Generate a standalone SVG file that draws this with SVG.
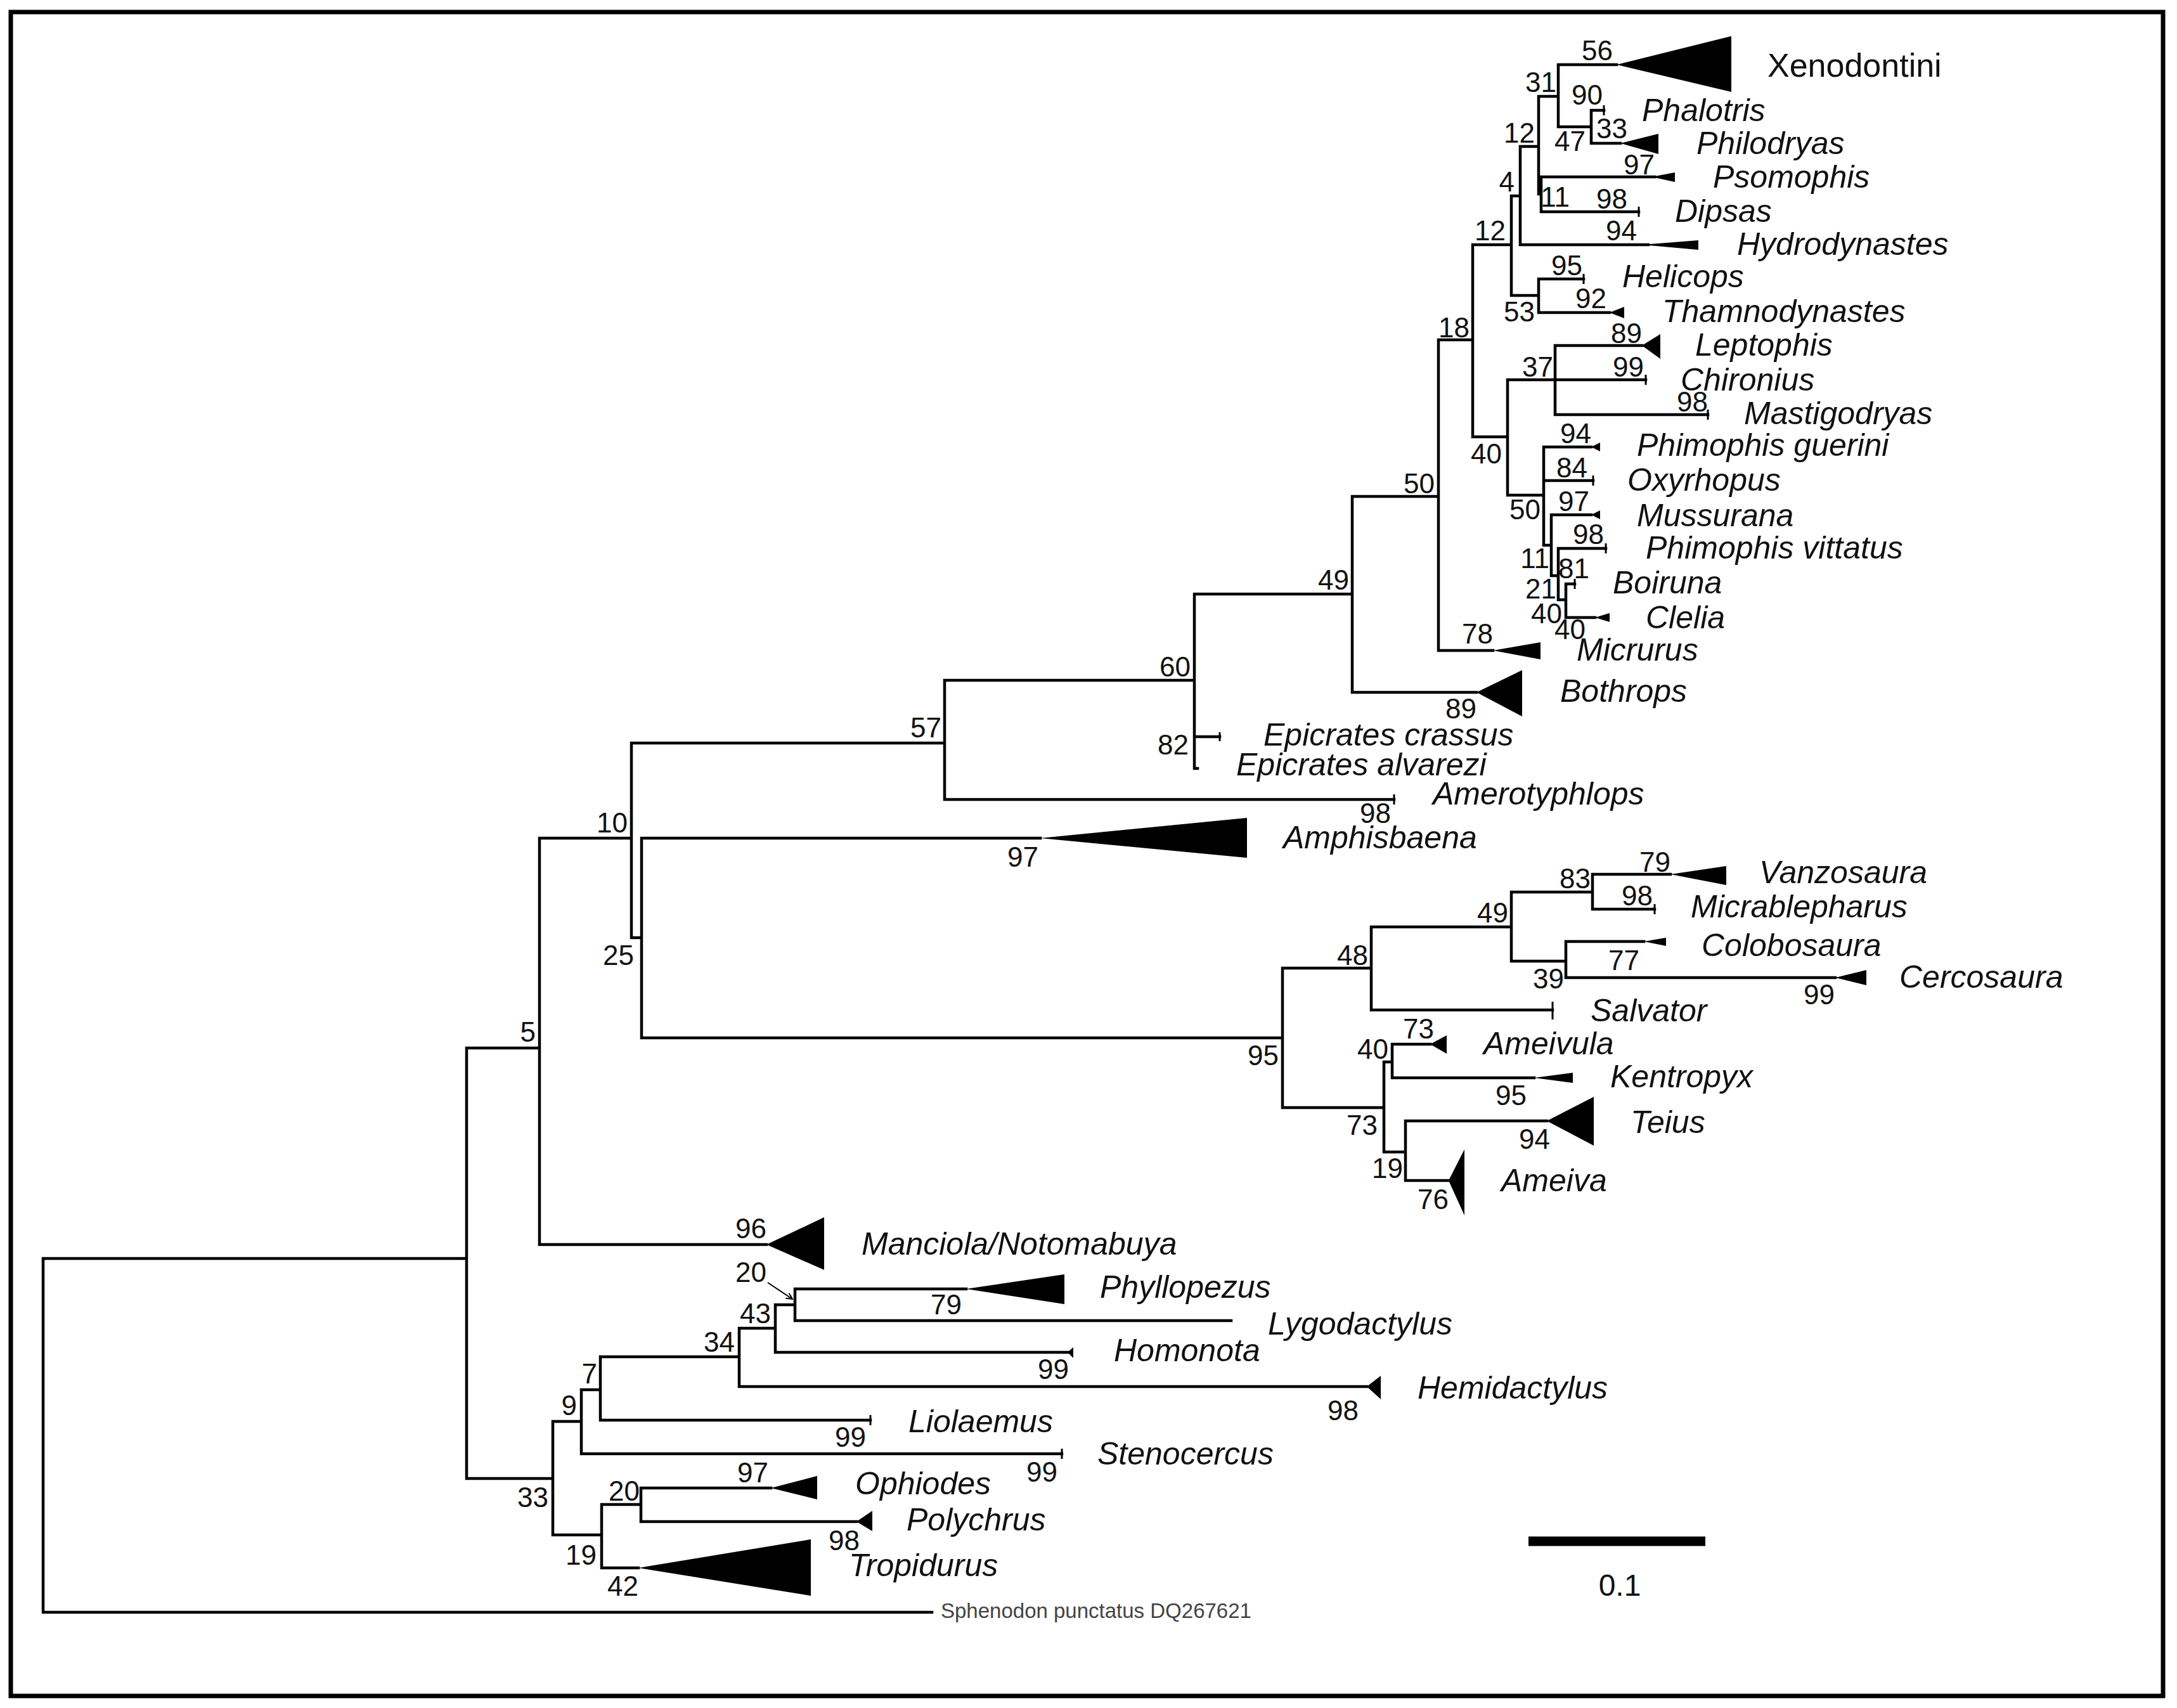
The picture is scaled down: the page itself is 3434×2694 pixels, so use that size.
<svg xmlns="http://www.w3.org/2000/svg" width="3434" height="2694" viewBox="0 0 3434 2694">
<style>
.br{stroke:#000;stroke-width:4.5;fill:none;stroke-linecap:square}
.tri{fill:#000;stroke:none}
.tk{stroke:#000;stroke-width:3;fill:none}
.tx{font-family:"Liberation Sans",Arial,sans-serif;font-style:italic;font-size:50px;fill:#111}
.rg{font-family:"Liberation Sans",Arial,sans-serif;font-size:52px;fill:#111}
.sv{font-family:"Liberation Sans",Arial,sans-serif;font-size:44px;fill:#111;text-anchor:end}
.sm{font-family:"Liberation Sans",Arial,sans-serif;font-size:33px;fill:#444}
</style>
<defs>
<marker id="ah" markerWidth="12" markerHeight="12" refX="10" refY="5" orient="auto" markerUnits="userSpaceOnUse">
<path d="M0,0 L10,5 L0,10" fill="none" stroke="#000" stroke-width="2"/>
</marker>
</defs>
<rect x="0" y="0" width="3434" height="2694" fill="#fff"/>
<rect x="17" y="19" width="3395" height="2656" fill="none" stroke="#000" stroke-width="7"/>

<g id="connectors">
<path class="br" d="M68 1985V2543M68 1985H736M68 2543H1470
M736 1653V2332M736 1653H851M736 2332H872
M851 1322V1963M851 1322H996M851 1963H1209
M996 1172V1479M996 1172H1490M996 1479H1012
M1012 1322V1637M1012 1322H1641M1012 1637H2023
M1490 1073V1261M1490 1073H1884M1490 1261H2199
M1884 937V1212M1884 937H2133M1884 1162H1924M1884 1212H1889
M2133 783V1092M2133 783H2269M2133 1092H2329
M2269 536V1026M2269 536H2323M2269 1026H2355
M2323 386V689M2323 386H2384M2323 689H2378
M2384 309V466M2384 309H2398M2384 466H2427
M2398 231V386M2398 231H2427M2398 386H2600
M2427 152V306M2427 152H2458M2427 306H2431
M2458 102V200M2458 102H2550M2458 200H2510
M2510 174V226M2510 174H2530M2510 226H2556
M2431 279V334M2431 279H2610M2431 334H2585
M2427 440V493M2427 440H2498M2427 493H2539
M2378 599V781M2378 599H2596M2378 781H2435
M2453 545V654M2453 545H2590M2453 654H2694
M2435 705V860M2435 705H2510M2435 758H2513M2435 860H2447
M2447 812V908M2447 812H2510M2447 908H2458
M2458 865V946M2458 865H2533M2458 946H2470
M2470 921V974M2470 921H2484M2470 974H2516
M2023 1527V1747M2023 1527H2163M2023 1747H2183
M2163 1462V1593M2163 1462H2384M2163 1593H2449
M2384 1407V1516M2384 1407H2512M2384 1516H2470
M2512 1379V1434M2512 1379H2635M2512 1434H2610
M2470 1485V1542M2470 1485H2593M2470 1542H2895
M2183 1675V1817M2183 1675H2196M2183 1817H2217
M2196 1647V1700M2196 1647H2256M2196 1700H2420
M2217 1768V1862M2217 1768H2440M2217 1862H2285
M872 2242V2421M872 2242H917M872 2421H949
M917 2192V2293M917 2192H947M917 2293H1675
M947 2140V2240M947 2140H1166M947 2240H1373
M1166 2095V2187M1166 2095H1223M1166 2187H2156
M1223 2058V2133M1223 2058H1254M1223 2133H1686
M1254 2033V2083M1254 2033H1524M1254 2083H1942
M949 2373V2473M949 2373H1011M949 2473H1007
M1011 2347V2400M1011 2347H1216M1011 2400H1351"/>
<line x1="1211" y1="2023" x2="1250" y2="2049" stroke="#000" stroke-width="2" marker-end="url(#ah)"/>
</g>

<g id="Xenodontini"><polygon class="tri" points="2550,102 2731,57 2731,145"/><text class="rg" x="2788" y="121">Xenodontini</text></g>
<g id="Phalotris"><path class="tk" d="M2530 166V182"/><text class="tx" x="2590" y="191">Phalotris</text></g>
<g id="Philodryas"><polygon class="tri" points="2556,226 2616,211 2616,243"/><text class="tx" x="2676" y="243">Philodryas</text></g>
<g id="Psomophis"><polygon class="tri" points="2605,279 2642,272 2642,287"/><text class="tx" x="2702" y="296">Psomophis</text></g>
<g id="Dipsas"><path class="tk" d="M2585 326V342"/><text class="tx" x="2642" y="350">Dipsas</text></g>
<g id="Hydrodynastes"><polygon class="tri" points="2590,386 2679,379 2679,394"/><text class="tx" x="2740" y="402">Hydrodynastes</text></g>
<g id="Helicops"><path class="tk" d="M2498 432V448"/><text class="tx" x="2559" y="453">Helicops</text></g>
<g id="Thamnodynastes"><polygon class="tri" points="2539,493 2562,484 2562,502"/><text class="tx" x="2622" y="508">Thamnodynastes</text></g>
<g id="Leptophis"><polygon class="tri" points="2590,545 2619,527 2619,566"/><text class="tx" x="2674" y="561">Leptophis</text></g>
<g id="Chironius"><path class="tk" d="M2596 591V607"/><text class="tx" x="2651" y="616">Chironius</text></g>
<g id="Mastigodryas"><path class="tk" d="M2694 646V662"/><text class="tx" x="2751" y="669">Mastigodryas</text></g>
<g id="Phimophis_guerini"><polygon class="tri" points="2510,705 2524,698 2524,712"/><text class="tx" x="2582" y="719">Phimophis guerini</text></g>
<g id="Oxyrhopus"><path class="tk" d="M2513 750V766"/><text class="tx" x="2567" y="774">Oxyrhopus</text></g>
<g id="Mussurana"><polygon class="tri" points="2510,812 2524,805 2524,819"/><text class="tx" x="2582" y="830">Mussurana</text></g>
<g id="Phimophis_vittatus"><path class="tk" d="M2533 857V873"/><text class="tx" x="2596" y="881">Phimophis vittatus</text></g>
<g id="Boiruna"><path class="tk" d="M2484 913V929"/><text class="tx" x="2544" y="936">Boiruna</text></g>
<g id="Clelia"><polygon class="tri" points="2516,974 2539,967 2539,981"/><text class="tx" x="2596" y="991">Clelia</text></g>
<g id="Micrurus"><polygon class="tri" points="2355,1026 2430,1013 2430,1040"/><text class="tx" x="2487" y="1042">Micrurus</text></g>
<g id="Bothrops"><polygon class="tri" points="2329,1092 2401,1057 2401,1130"/><text class="tx" x="2461" y="1107">Bothrops</text></g>
<g id="Epicrates_crassus"><path class="tk" d="M1924 1155V1169"/><text class="tx" x="1993" y="1176">Epicrates crassus</text></g>
<g id="Epicrates_alvarezi"><text class="tx" x="1950" y="1223">Epicrates alvarezi</text></g>
<g id="Amerotyphlops"><path class="tk" d="M2199 1253V1269"/><text class="tx" x="2260" y="1269">Amerotyphlops</text></g>
<g id="Amphisbaena"><polygon class="tri" points="1641,1322 1967,1290 1967,1353"/><text class="tx" x="2024" y="1338">Amphisbaena</text></g>
<g id="Vanzosaura"><polygon class="tri" points="2635,1379 2723,1366 2723,1396"/><text class="tx" x="2775" y="1393">Vanzosaura</text></g>
<g id="Micrablepharus"><path class="tk" d="M2610 1426V1442"/><text class="tx" x="2667" y="1447">Micrablepharus</text></g>
<g id="Colobosaura"><polygon class="tri" points="2593,1485 2628,1479 2628,1492"/><text class="tx" x="2684" y="1508">Colobosaura</text></g>
<g id="Cercosaura"><polygon class="tri" points="2895,1542 2944,1530 2944,1554"/><text class="tx" x="2996" y="1558">Cercosaura</text></g>
<g id="Salvator"><path class="tk" d="M2449 1580V1608"/><text class="tx" x="2509" y="1611">Salvator</text></g>
<g id="Ameivula"><polygon class="tri" points="2256,1647 2282,1633 2282,1662"/><text class="tx" x="2340" y="1663">Ameivula</text></g>
<g id="Kentropyx"><polygon class="tri" points="2420,1700 2481,1692 2481,1708"/><text class="tx" x="2540" y="1715">Kentropyx</text></g>
<g id="Teius"><polygon class="tri" points="2440,1768 2514,1730 2514,1807"/><text class="tx" x="2572" y="1787">Teius</text></g>
<g id="Ameiva"><polygon class="tri" points="2285,1862 2310,1813 2310,1917"/><text class="tx" x="2368" y="1879">Ameiva</text></g>
<g id="Manciola_Notomabuya"><polygon class="tri" points="1209,1963 1300,1920 1300,2003"/><text class="tx" x="1359" y="1979">Manciola/Notomabuya</text></g>
<g id="Phyllopezus"><polygon class="tri" points="1524,2033 1679,2010 1679,2057"/><text class="tx" x="1735" y="2047">Phyllopezus</text></g>
<g id="Lygodactylus"><text class="tx" x="2000" y="2105">Lygodactylus</text></g>
<g id="Homonota"><polygon class="tri" points="1684,2133 1693,2125 1693,2142"/><text class="tx" x="1757" y="2147">Homonota</text></g>
<g id="Hemidactylus"><polygon class="tri" points="2156,2187 2178,2170 2178,2207"/><text class="tx" x="2236" y="2206">Hemidactylus</text></g>
<g id="Liolaemus"><path class="tk" d="M1373 2232V2248"/><text class="tx" x="1433" y="2259">Liolaemus</text></g>
<g id="Stenocercus"><path class="tk" d="M1675 2285V2301"/><text class="tx" x="1731" y="2310">Stenocercus</text></g>
<g id="Ophiodes"><polygon class="tri" points="1216,2347 1289,2328 1289,2365"/><text class="tx" x="1349" y="2357">Ophiodes</text></g>
<g id="Polychrus"><polygon class="tri" points="1351,2400 1376,2383 1376,2415"/><text class="tx" x="1430" y="2414">Polychrus</text></g>
<g id="Tropidurus"><polygon class="tri" points="1007,2473 1279,2428 1279,2517"/><text class="tx" x="1339" y="2486">Tropidurus</text></g>
<g id="Sphenodon"><text class="sm" x="1484" y="2552">Sphenodon punctatus DQ267621</text></g>

<g id="support">
<text class="sv" x="2544" y="95">56</text>
<text class="sv" x="2455" y="145">31</text>
<text class="sv" x="2528" y="165">90</text>
<text class="sv" x="2501" y="238">47</text>
<text class="sv" x="2567" y="218">33</text>
<text class="sv" x="2421" y="225">12</text>
<text class="sv" x="2610" y="275">97</text>
<text class="sv" x="2476" y="326">11</text>
<text class="sv" x="2567" y="329">98</text>
<text class="sv" x="2389" y="302">4</text>
<text class="sv" x="2582" y="379">94</text>
<text class="sv" x="2375" y="379">12</text>
<text class="sv" x="2496" y="434">95</text>
<text class="sv" x="2421" y="507">53</text>
<text class="sv" x="2534" y="486">92</text>
<text class="sv" x="2318" y="532">18</text>
<text class="sv" x="2590" y="541">89</text>
<text class="sv" x="2450" y="594">37</text>
<text class="sv" x="2593" y="594">99</text>
<text class="sv" x="2694" y="649">98</text>
<text class="sv" x="2369" y="731">40</text>
<text class="sv" x="2510" y="699">94</text>
<text class="sv" x="2504" y="753">84</text>
<text class="sv" x="2263" y="778">50</text>
<text class="sv" x="2430" y="819">50</text>
<text class="sv" x="2507" y="806">97</text>
<text class="sv" x="2530" y="858">98</text>
<text class="sv" x="2444" y="896">11</text>
<text class="sv" x="2507" y="912">81</text>
<text class="sv" x="2455" y="944">21</text>
<text class="sv" x="2464" y="983">40</text>
<text class="sv" x="2501" y="1008">40</text>
<text class="sv" x="2355" y="1015">78</text>
<text class="sv" x="2128" y="930">49</text>
<text class="sv" x="2329" y="1133">89</text>
<text class="sv" x="1878" y="1067">60</text>
<text class="sv" x="1875" y="1190">82</text>
<text class="sv" x="1485" y="1163">57</text>
<text class="sv" x="990" y="1313">10</text>
<text class="sv" x="1000" y="1522">25</text>
<text class="sv" x="845" y="1643">5</text>
<text class="sv" x="2194" y="1298">98</text>
<text class="sv" x="1638" y="1367">97</text>
<text class="sv" x="2017" y="1680">95</text>
<text class="sv" x="2158" y="1522">48</text>
<text class="sv" x="2379" y="1455">49</text>
<text class="sv" x="2509" y="1401">83</text>
<text class="sv" x="2635" y="1375">79</text>
<text class="sv" x="2607" y="1428">98</text>
<text class="sv" x="2467" y="1559">39</text>
<text class="sv" x="2586" y="1530">77</text>
<text class="sv" x="2894" y="1584">99</text>
<text class="sv" x="2262" y="1638">73</text>
<text class="sv" x="2190" y="1670">40</text>
<text class="sv" x="2408" y="1743">95</text>
<text class="sv" x="2173" y="1790">73</text>
<text class="sv" x="2445" y="1812">94</text>
<text class="sv" x="2213" y="1858">19</text>
<text class="sv" x="2285" y="1907">76</text>
<text class="sv" x="1209" y="1953">96</text>
<text class="sv" x="1209" y="2022">20</text>
<text class="sv" x="1216" y="2087">43</text>
<text class="sv" x="1159" y="2132">34</text>
<text class="sv" x="1517" y="2073">79</text>
<text class="sv" x="942" y="2182">7</text>
<text class="sv" x="910" y="2232">9</text>
<text class="sv" x="1686" y="2175">99</text>
<text class="sv" x="2143" y="2240">98</text>
<text class="sv" x="1366" y="2282">99</text>
<text class="sv" x="1668" y="2337">99</text>
<text class="sv" x="865" y="2377">33</text>
<text class="sv" x="1009" y="2367">20</text>
<text class="sv" x="1212" y="2338">97</text>
<text class="sv" x="1356" y="2445">98</text>
<text class="sv" x="941" y="2468">19</text>
<text class="sv" x="1007" y="2517">42</text>
</g>

<g id="scale">
<line x1="2411" y1="2431" x2="2690" y2="2431" stroke="#000" stroke-width="15"/>
<text x="2555" y="2517" text-anchor="middle" font-family="Liberation Sans, Arial, sans-serif" font-size="48" fill="#111">0.1</text>
</g>
</svg>
